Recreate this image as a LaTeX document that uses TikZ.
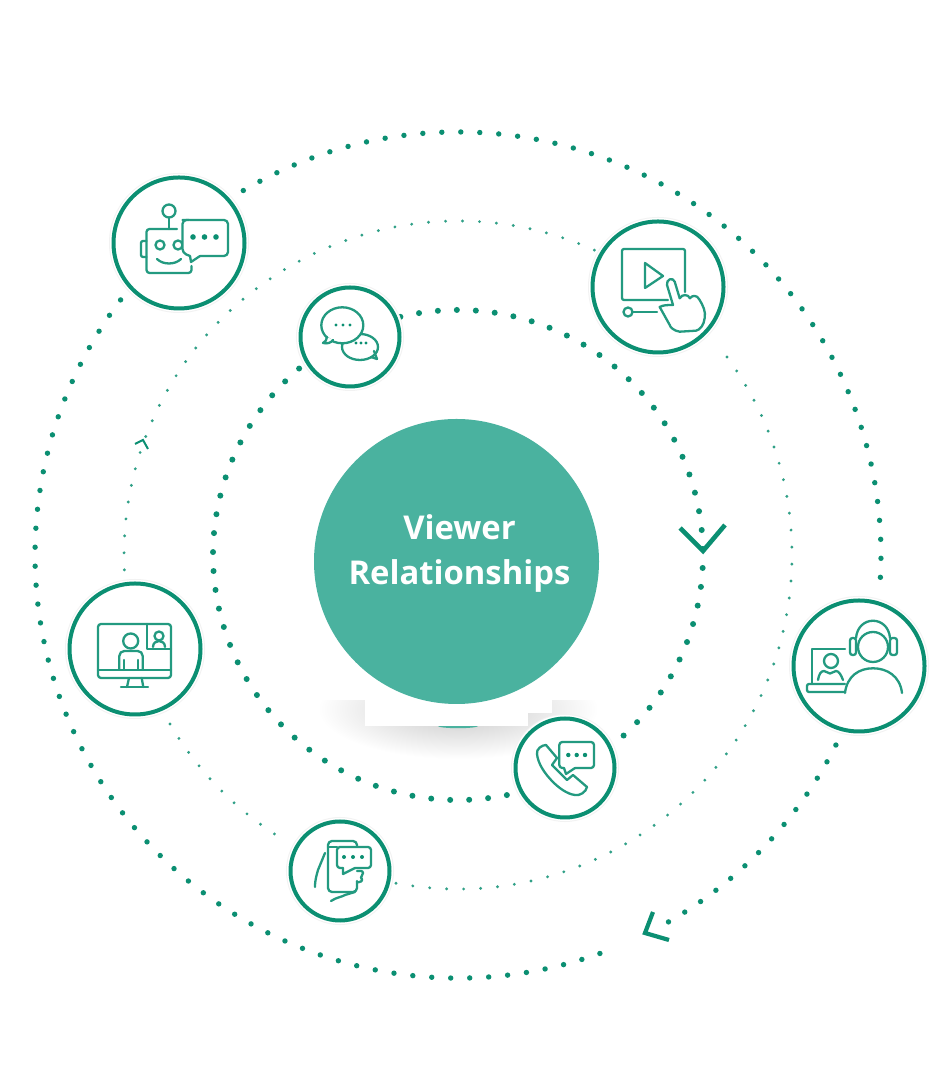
\documentclass[tikz,border=0pt]{standalone}
\usepackage{fontspec}
\setmainfont{Open Sans}
\definecolor{ringteal}{HTML}{0B8F72}
\definecolor{hubteal}{HTML}{4AB29F}
\tikzset{
  every picture/.style={x=1pt,y=1pt},
  icon/.style={draw=ringteal!90,line width=2.3pt,line cap=round,line join=round},
  iconwhite/.style={icon,fill=white},
  icondot/.style={fill=ringteal,draw=none},
  medal/.style={circle,draw=ringteal,line width=4pt,fill=white,inner sep=0pt,
    preaction={draw=black!5,line width=9pt},preaction={draw=white,line width=7pt}},
  bigmedal/.style={medal,minimum size=131pt},
  smallmedal/.style={medal,minimum size=99pt},
  outerdots/.style={draw=ringteal,line width=5.4pt,line cap=round,dash pattern=on 0pt off 19pt},
  innerdots/.style={draw=ringteal,line width=6pt,line cap=round,dash pattern=on 0pt off 19pt},
  thindots/.style={draw=ringteal!85,line width=3.2pt,line cap=round,dash pattern=on 0pt off 17pt},
  chevron/.style={draw=ringteal,line join=miter}
}
\begin{document}
\begin{tikzpicture}
\useasboundingbox (0,0) rectangle (942,1075);
\fill[white] (0,0) rectangle (942,1075);
% ring centre and arc ends
\coordinate (c) at (458,520);
\path (c) ++(120.5:423) coordinate (oa);
\path (c) ++(-26.7:423) coordinate (ob);
\path (c) ++(-70.4:423) coordinate (od);
\path (c) ++(65.9:334) coordinate (ma);
\path (c) ++(210.4:334) coordinate (mb);
\path (c) ++(259.3:334) coordinate (md);
\path (c) ++(103.6:245) coordinate (ia);
\path (c) ++(-78.5:245) coordinate (ib);
% shadow under the hub
\shade[inner color=black!22,outer color=white,draw=none] (458,366) ellipse [x radius=140pt,y radius=50pt];
\fill[hubteal] (458,349) ellipse [x radius=20pt,y radius=2.2pt];
\fill[white] (290,375) rectangle (640,440);
\fill[white] (365,349) rectangle (528,375);
\fill[white] (528,362) rectangle (552,375);
% rings
\draw[outerdots] (oa) arc[start angle=120.5,end angle=-4.3,radius=423pt];
\draw[outerdots] (ob) arc[start angle=-26.7,end angle=-61,radius=423pt];
\draw[outerdots] (od) arc[start angle=-70.4,end angle=-218.8,radius=423pt];
\draw[thindots] (ma) arc[start angle=65.9,end angle=183.4,radius=334pt];
\draw[thindots] (mb) arc[start angle=210.4,end angle=238.1,radius=334pt];
\draw[thindots] (md) arc[start angle=259.3,end angle=398.7,radius=334pt];
\draw[innerdots] (ia) arc[start angle=103.6,end angle=-47.5,radius=245pt];
\draw[innerdots] (ib) arc[start angle=-78.5,end angle=-230.1,radius=245pt];
% chevrons
\coordinate (ch1a) at (680,547); \coordinate (ch1b) at (703,524); \coordinate (ch1c) at (725,550);
\draw[chevron,line width=4.6pt] (ch1a) -- (ch1b) -- (ch1c);
\coordinate (ch2a) at (653,163); \coordinate (ch2b) at (645,142); \coordinate (ch2c) at (669,135);
\draw[chevron,line width=4.2pt] (ch2a) -- (ch2b) -- (ch2c);
\coordinate (ch3a) at (135,631); \coordinate (ch3b) at (143,635); \coordinate (ch3c) at (148,626);
\draw[chevron,line width=2pt] (ch3a) -- (ch3b) -- (ch3c);
% hub
\node[circle,fill=hubteal,minimum size=285pt,inner sep=0pt] (hub) at (456.5,513.5) {};
\node[text=white,font=\bfseries\fontsize{32.8}{45}\selectfont,align=center,inner sep=0pt] (hublabel) at (459.5,522) {Viewer\\Relationships};
% medals
\node[bigmedal] (robot) at (179,832) {};
\node[bigmedal] (video) at (658,788) {};
\node[smallmedal] (chat) at (350,738) {};
\node[bigmedal] (monitor) at (135,426) {};
\node[bigmedal] (headset) at (859,409) {};
\node[smallmedal] (phone) at (565,307) {};
\node[smallmedal] (mobile) at (340,204) {};
% robot
\begin{scope}[shift={(robot.center)},yscale=-1]
\draw[icon] (-10,-25) -- (-10,-14);
\draw[icon] (-10,-32) circle[radius=6.5pt];
\draw[icon,rounded corners=3pt] (-2,-14) -- (-32.5,-14) -- (-32.5,30) -- (12.5,30) -- (12.5,23);
\draw[icon,rounded corners=2pt] (-32.5,-2) -- (-38,-2) -- (-38,14) -- (-32.5,14);
\draw[icon] (-19,2) circle[radius=4.5pt];
\draw[icon] (-1,2) circle[radius=4.5pt];
\draw[icon] (-22,16) .. controls (-16,22) and (-4,22) .. (2,16);
\draw[iconwhite,rounded corners=4pt] (3.5,-23) -- (49,-23) -- (49,13) -- (21,13);
\draw[iconwhite] (21,13) -- (12,19) -- (11,13) [rounded corners=4pt] -- (3.5,10) -- (3.5,-23) -- (10,-23);
\foreach \i in {14,25.5,37} \fill[icondot] (\i,-6) circle[radius=2.8pt];
\end{scope}
% chat
\begin{scope}[shift={(chat.center)},yscale=-1]
\draw[icon] (10,10) ellipse[x radius=18pt,y radius=13pt];
\draw[icon] (21,20) -- (27,22) -- (24,14);
\draw[iconwhite] (-7.7,-11.7) ellipse[x radius=21pt,y radius=18pt];
\draw[iconwhite] (-23,0) .. controls (-23,3) and (-25,5) .. (-27,6) .. controls (-23,7) and (-19,6) .. (-17,3);
\foreach \i in {-14,-7,0} \fill[icondot] (\i,-12) circle[radius=1.7pt];
\foreach \i in {6,11,16} \fill[icondot] (\i,6) circle[radius=1.7pt];
\end{scope}
% video
\begin{scope}[shift={(video.center)},yscale=-1]
\draw[icon,rounded corners=2pt] (10,13) -- (-36,13) -- (-36,-38) -- (27,-38) -- (27,5);
\draw[icon] (-13,-24) -- (5,-11) -- (-13,1) -- cycle;
\draw[icon] (-30,25) circle[radius=4.5pt];
\draw[icon] (-25,25) -- (-1,25);
\draw[iconwhite] (1.7,20) .. controls (5,18) and (10,18) .. (15,18)
  -- (9,-2) .. controls (8,-8) and (15,-10) .. (16.7,-5.3) -- (21.7,11.3)
  .. controls (24,7) and (30,7) .. (32,11.3) .. controls (34,8) and (39,8) .. (41,12)
  .. controls (45,18) and (48,25) .. (46.7,31) .. controls (46,38) and (42,43) .. (38,43.7)
  -- (21.7,44.7) .. controls (16,44) and (12,40) .. (11.7,38) -- cycle;
\end{scope}
% monitor
\begin{scope}[shift={(monitor.center)},yscale=-1]
\draw[icon,rounded corners=3pt] (-37,-25) rectangle (36,29);
\draw[icon] (-37,21) -- (36,21);
\draw[icon] (-6,29) -- (-8,38);
\draw[icon] (6.7,29) -- (8.3,38);
\draw[icon] (-14,38) -- (13,38);
\draw[icon] (12,-25) -- (12,0) -- (36,0);
\draw[icon] (24,-13) circle[radius=4.5pt];
\draw[icon] (18,-2) .. controls (18,-6) and (21,-8) .. (24,-8) .. controls (27,-8) and (30,-6) .. (30,-2);
\draw[icon] (-4.3,-8) circle[radius=7.5pt];
\draw[icon,rounded corners=5pt] (-15.7,20) -- (-15.7,2) -- (7.7,2) -- (7.7,20);
\draw[icon] (-11,11) -- (-11,20);
\draw[icon] (3.3,11) -- (3.3,20);
\end{scope}
% headset
\begin{scope}[shift={(headset.center)},yscale=-1]
\draw[icon] (14,-19) circle[radius=15pt];
\draw[icon] (-3,-28) .. controls (-1,-51) and (29,-51) .. (31,-28);
\draw[icon,rounded corners=2.5pt] (-9,-28) rectangle (-3,-11);
\draw[icon,rounded corners=2.5pt] (31,-28) rectangle (38,-11);
\draw[icon] (-14,27) .. controls (-12,10) and (0,2.3) .. (14,2.3) .. controls (28,2.3) and (41,10) .. (43,27);
\draw[icon] (-14,-17) -- (-47,-17) -- (-47,17);
\draw[icon,rounded corners=2pt] (-14,18) -- (-52,18) -- (-52,26) -- (-14,26);
\draw[icon] (-28,-5) circle[radius=7pt];
\draw[icon] (-41,14) .. controls (-40,8) and (-38,5) .. (-35,5) -- (-29,7.5) -- (-23,5) .. controls (-20,5) and (-18,9) .. (-16,14);
\end{scope}
% phone
\begin{scope}[shift={(phone.center)},yscale=-1]
\draw[icon] (-19,-23) .. controls (-23,-23) and (-29,-19) .. (-28,-14)
  .. controls (-27,-4) and (-20,6) .. (-12,14) .. controls (-6,20) and (2,26) .. (10,27)
  .. controls (15,28) and (21,24) .. (22,19) -- (8,7) -- (2,12) -- (-13,-3) -- (-8,-10) -- cycle;
\draw[iconwhite,rounded corners=3pt] (10,0) -- (29,0) -- (29,-26) -- (-5.7,-26) -- (-5.7,0) -- (-1,0);
\draw[iconwhite] (-1,0) -- (1,6) -- (10,0);
\foreach \i in {3.3,11.7,20} \fill[icondot] (\i,-13) circle[radius=2.2pt];
\end{scope}
% mobile
\begin{scope}[shift={(mobile.center)},yscale=-1]
\draw[icon,rounded corners=4pt] (17,-24) -- (17,-30) -- (-12,-30) -- (-12,21) -- (17,21) -- (17,10);
\draw[icon] (-12,-24) -- (-3,-24);
\draw[icon] (-25,16) .. controls (-25,8) and (-23,3) .. (-22,-1) -- (-15,-18);
\draw[icon] (-9,30) .. controls (-3,26) and (2,26) .. (5,24) -- (15,21);
\draw[icon,rounded corners=2pt] (17,0) -- (23,0) -- (23,4) -- (20,7) -- (23,8) -- (20,12) -- (17,11);
\draw[iconwhite,rounded corners=3pt] (15,-3) -- (31,-3) -- (31,-24) -- (-3,-24) -- (-3,-3) -- (3,-3);
\draw[iconwhite] (3,-3) -- (3,3) -- (15,-3);
\foreach \i in {4,13,22} \fill[icondot] (\i,-14) circle[radius=2pt];
\end{scope}
\end{tikzpicture}
\end{document}
